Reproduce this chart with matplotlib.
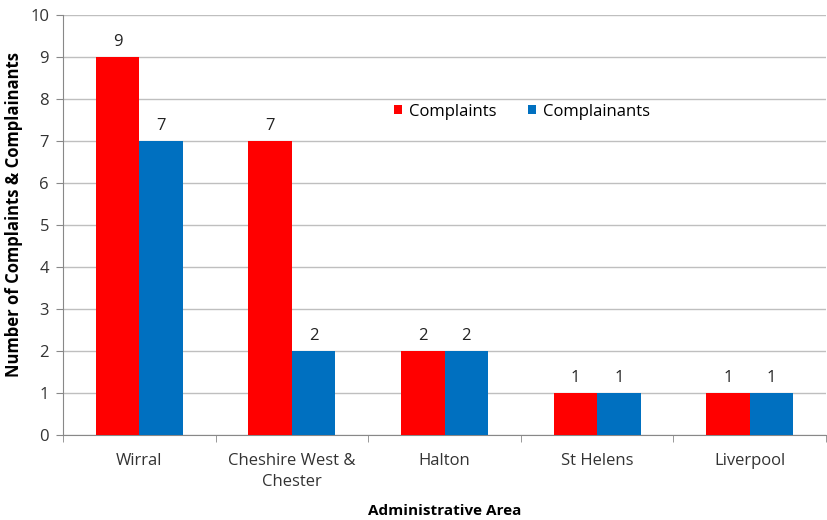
import matplotlib
matplotlib.use("Agg")
import matplotlib.pyplot as plt
import numpy as np

areas = ["Wirral", "Cheshire West &\nChester", "Halton", "St Helens", "Liverpool"]
complaints = [9, 7, 2, 1, 1]
complainants = [7, 2, 2, 1, 1]
y_ticks = list(range(0, 11))

plt.rcParams["font.family"] = ["Open Sans", "DejaVu Sans"]

fig = plt.figure(figsize=(8.27, 5.2), dpi=100)
ax = fig.add_axes([63 / 827, 85 / 520, 763 / 827, 420 / 520])

x = np.arange(len(areas))
w = 1 / 3.5
red = "#FF0000"
blue = "#0070C0"
b1 = ax.bar(x - w / 2, complaints, w, color=red, label="Complaints", zorder=3)
b2 = ax.bar(x + w / 2, complainants, w, color=blue, label="Complainants", zorder=3)

for bars, vals in ((b1, complaints), (b2, complainants)):
    for rect, v in zip(bars, vals):
        ax.annotate(str(v), (rect.get_x() + rect.get_width() / 2, v),
                    xytext=(0, 5), textcoords="offset points",
                    ha="center", va="bottom", fontsize=12, color="#222222")

ax.set_xlim(-0.5, len(areas) - 0.5)
ax.set_ylim(0, 10)
ax.set_yticks(y_ticks)
ax.yaxis.grid(True, color="#BFBFBF", linewidth=1, zorder=0)
ax.set_axisbelow(True)

ax.set_xticks(x)
ax.set_xticklabels(areas, fontsize=12, color="#333333", linespacing=1.4)
ax.tick_params(axis="x", which="major", length=0, pad=13)
ax.set_xticks(np.arange(-0.5, len(areas), 1), minor=True)
ax.tick_params(axis="x", which="minor", length=5, color="#888888")
ax.tick_params(axis="y", length=5, color="#888888", labelsize=12, labelcolor="#333333", pad=5)

for s in ("top", "right"):
    ax.spines[s].set_visible(False)
for s in ("left", "bottom"):
    ax.spines[s].set_color("#888888")

ax.set_ylabel("Number of Complaints & Complainants", fontsize=12, fontweight="bold")
ax.yaxis.set_label_coords(-0.052, 0.526)
ax.set_xlabel("Administrative Area", fontsize=11, fontweight="bold", labelpad=10)

ax.legend(loc="center left", bbox_to_anchor=(0.414, 0.77), ncol=2, frameon=False,
          fontsize=12, handlelength=0.5, handleheight=0.5, columnspacing=1.9,
          handletextpad=0.4)

fig.savefig("out.png", dpi=100)
